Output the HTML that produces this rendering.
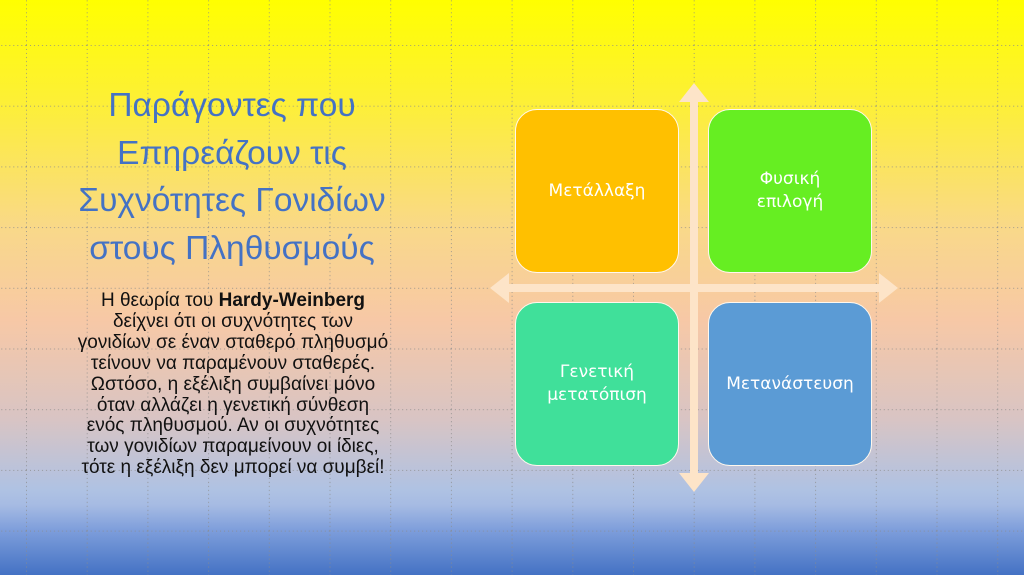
<!DOCTYPE html>
<html><head><meta charset="utf-8"><style>
html,body{margin:0;padding:0}
body{width:1024px;height:575px;position:relative;overflow:hidden;
background:linear-gradient(to bottom,#ffff00 0px,#fdf035 100px,#f9d88a 230px,#f7c8a6 320px,#d8c4c4 420px,#afc2e3 490px,#a6bbe3 505px,#7e9edb 530px,#4472c4 575px);
font-family:"Liberation Sans","DejaVu Sans",sans-serif}
svg{position:absolute;left:0;top:0}
.title{position:absolute;left:32px;width:400px;top:82px;text-align:center;color:#4472c4;font-family:"Liberation Sans","DejaVu Sans",sans-serif;font-size:33.5px;line-height:47.5px}
.body{position:absolute;left:33px;width:400px;top:291px;text-align:center;color:#111;font-size:19px;line-height:20.9px}
.box{position:absolute;width:164px;height:164px;border:1px solid #fff8ee;border-radius:22px;box-sizing:border-box;display:flex;align-items:center;justify-content:center;text-align:center;color:#fff;font-family:"DejaVu Sans","Liberation Sans",sans-serif;font-size:17px;line-height:23px}
</style></head><body>
<svg width="1024" height="575">
<defs><pattern id="g" x="26" y="45" width="60.7" height="60.7" patternUnits="userSpaceOnUse">
<line x1="0.5" y1="0" x2="0.5" y2="60.7" stroke="#8a8a8a" stroke-width="1" stroke-dasharray="1 3"/>
<line x1="0" y1="0.5" x2="60.7" y2="0.5" stroke="#8a8a8a" stroke-width="1" stroke-dasharray="1 3"/>
</pattern></defs>
<rect width="1024" height="575" fill="url(#g)" opacity="0.8"/>
</svg>
<div class="title">Παράγοντες που<br>Επηρεάζουν τις<br>Συχνότητες Γονιδίων<br>στους Πληθυσμούς</div>
<div class="body">Η θεωρία του <b>Hardy-Weinberg</b><br>δείχνει ότι οι συχνότητες των<br>γονιδίων σε έναν σταθερό πληθυσμό<br>τείνουν να παραμένουν σταθερές.<br>Ωστόσο, η εξέλιξη συμβαίνει μόνο<br>όταν αλλάζει η γενετική σύνθεση<br>ενός πληθυσμού. Αν οι συχνότητες<br>των γονιδίων παραμείνουν οι ίδιες,<br>τότε η εξέλιξη δεν μπορεί να συμβεί!</div>
<svg width="1024" height="575">
<g fill="#fde4c8">
<rect x="690" y="100" width="8" height="376"/>
<polygon points="694,83 679,102 709,102"/>
<polygon points="694,492 679,473 709,473"/>
<rect x="508" y="284" width="372" height="8"/>
<polygon points="490,288 509,273 509,303"/>
<polygon points="898,288 879,273 879,303"/>
</g>
</svg>
<div class="box" style="left:515px;top:109px;background:#ffc000">Μετάλλαξη</div>
<div class="box" style="left:708px;top:109px;background:#66ee22">Φυσική<br>επιλογή</div>
<div class="box" style="left:515px;top:302px;background:#40e09a">Γενετική<br>μετατόπιση</div>
<div class="box" style="left:708px;top:302px;background:#5b9bd5">Μετανάστευση</div>
</body></html>
